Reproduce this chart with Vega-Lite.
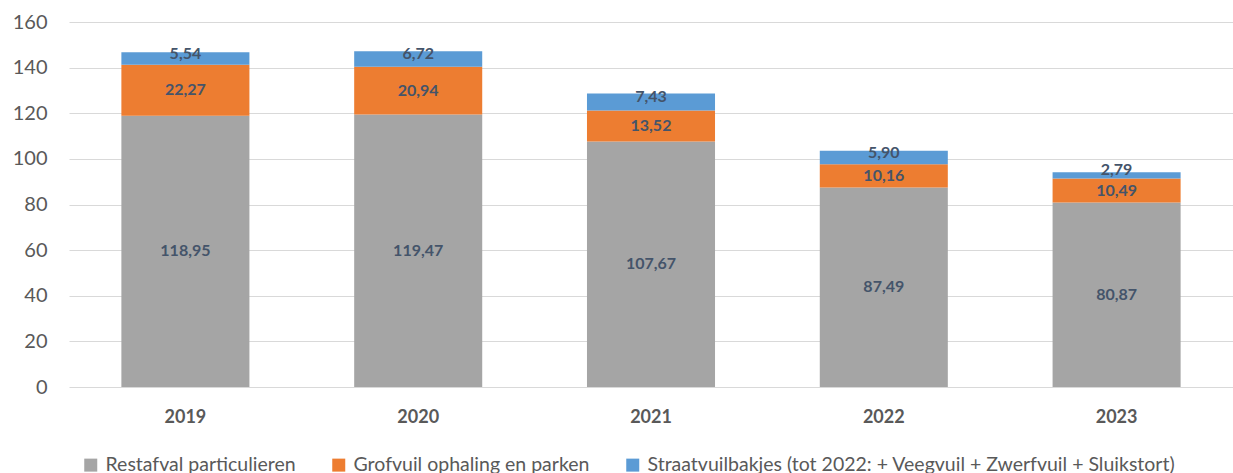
{
  "$schema": "https://vega.github.io/schema/vega-lite/v6.json",
  "width": 1164,
  "height": 365,
  "autosize": {"type": "none"},
  "padding": {"left": 69, "top": 22, "right": 0, "bottom": 86},
  "background": "white",
  "config": {
    "font": "Lato",
    "view": {"stroke": null},
    "axis": {"labelColor": "#595959", "domain": false, "ticks": false}
  },
  "data": {
    "values": [
      {"jaar": "2019", "cat": "Restafval particulieren", "k": 1, "v": 118.95, "t": "118,95"},
      {"jaar": "2019", "cat": "Grofvuil ophaling en parken", "k": 2, "v": 22.27, "t": "22,27"},
      {"jaar": "2019", "cat": "Straatvuilbakjes (tot 2022: + Veegvuil + Zwerfvuil + Sluikstort)", "k": 3, "v": 5.54, "t": "5,54"},
      {"jaar": "2020", "cat": "Restafval particulieren", "k": 1, "v": 119.47, "t": "119,47"},
      {"jaar": "2020", "cat": "Grofvuil ophaling en parken", "k": 2, "v": 20.94, "t": "20,94"},
      {"jaar": "2020", "cat": "Straatvuilbakjes (tot 2022: + Veegvuil + Zwerfvuil + Sluikstort)", "k": 3, "v": 6.72, "t": "6,72"},
      {"jaar": "2021", "cat": "Restafval particulieren", "k": 1, "v": 107.67, "t": "107,67"},
      {"jaar": "2021", "cat": "Grofvuil ophaling en parken", "k": 2, "v": 13.52, "t": "13,52"},
      {"jaar": "2021", "cat": "Straatvuilbakjes (tot 2022: + Veegvuil + Zwerfvuil + Sluikstort)", "k": 3, "v": 7.43, "t": "7,43"},
      {"jaar": "2022", "cat": "Restafval particulieren", "k": 1, "v": 87.49, "t": "87,49"},
      {"jaar": "2022", "cat": "Grofvuil ophaling en parken", "k": 2, "v": 10.16, "t": "10,16"},
      {"jaar": "2022", "cat": "Straatvuilbakjes (tot 2022: + Veegvuil + Zwerfvuil + Sluikstort)", "k": 3, "v": 5.90, "t": "5,90"},
      {"jaar": "2023", "cat": "Restafval particulieren", "k": 1, "v": 80.87, "t": "80,87"},
      {"jaar": "2023", "cat": "Grofvuil ophaling en parken", "k": 2, "v": 10.49, "t": "10,49"},
      {"jaar": "2023", "cat": "Straatvuilbakjes (tot 2022: + Veegvuil + Zwerfvuil + Sluikstort)", "k": 3, "v": 2.79, "t": "2,79"}
    ]
  },
  "encoding": {
    "x": {
      "field": "jaar", "type": "nominal", "title": null,
      "scale": {"paddingInner": 0.45, "paddingOuter": 0.225},
      "axis": {"labelAngle": 0, "labelFontSize": 18, "labelFontWeight": "bold", "labelPadding": 21, "grid": false}
    },
    "y": {
      "field": "v", "type": "quantitative", "stack": "zero", "title": null,
      "scale": {"domain": [0, 160], "nice": false},
      "axis": {"values": [0, 20, 40, 60, 80, 100, 120, 140, 160], "labelFontSize": 20, "labelPadding": 22, "gridColor": "#D9D9D9", "gridWidth": 1}
    },
    "order": {"field": "k", "type": "quantitative"}
  },
  "layer": [
    {
      "mark": {"type": "bar"},
      "encoding": {
        "color": {
          "field": "cat", "type": "nominal", "title": null,
          "scale": {
            "domain": ["Restafval particulieren", "Grofvuil ophaling en parken", "Straatvuilbakjes (tot 2022: + Veegvuil + Zwerfvuil + Sluikstort)"],
            "range": ["#A5A5A5", "#ED7D31", "#5B9BD5"]
          },
          "legend": {
            "orient": "none", "legendX": 12, "legendY": 433, "direction": "horizontal", "labelFontSize": 19.5, "labelColor": "#595959",
            "symbolType": "square", "symbolSize": 169, "symbolStrokeWidth": 0, "labelLimit": 800,
            "columnPadding": 33, "labelOffset": 5
          }
        }
      }
    },
    {
      "transform": [{"filter": "datum.k < 3"}],
      "mark": {"type": "text", "fontSize": 16, "fontWeight": "bold", "color": "#44546A"},
      "encoding": {
        "y": {"field": "v", "type": "quantitative", "stack": "zero", "bandPosition": 0.5},
        "text": {"field": "t"}
      }
    },
    {
      "mark": {"type": "text", "fontSize": 16, "fontWeight": "bold", "color": "#44546A", "dy": -5},
      "encoding": {
        "y": {"field": "v", "type": "quantitative", "stack": "zero", "bandPosition": 0.5},
        "text": {"field": "t", "condition": {"test": "datum.k < 3", "value": ""}},
        "opacity": {"condition": {"test": "datum.k < 3", "value": 0}, "value": 1}
      }
    }
  ]
}
